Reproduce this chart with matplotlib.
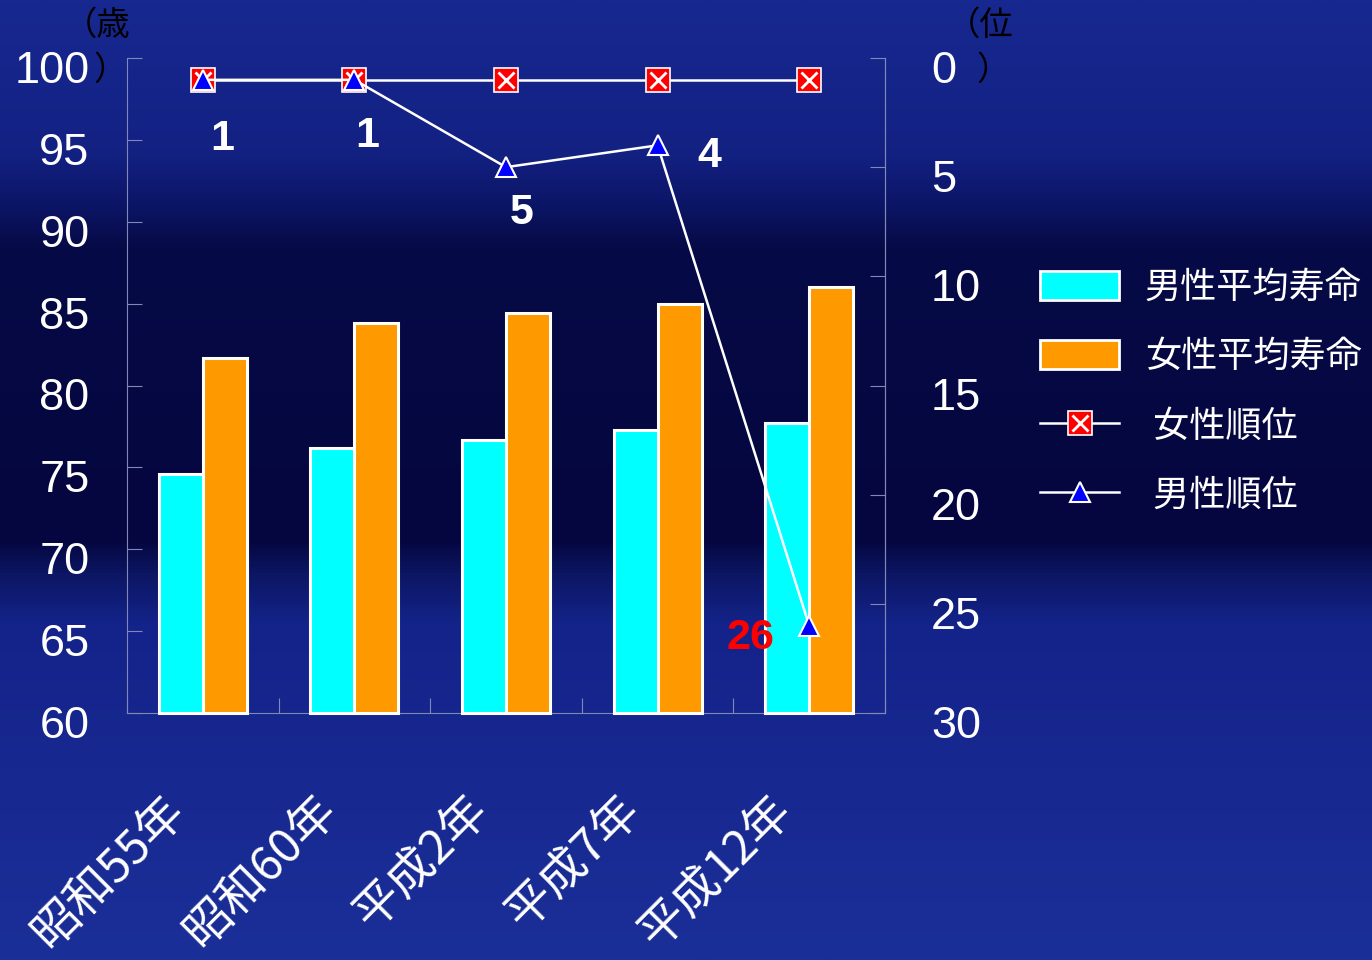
import numpy as np
import matplotlib
matplotlib.use("Agg")
import matplotlib.pyplot as plt
from matplotlib.colors import LinearSegmentedColormap
from matplotlib.lines import Line2D
from matplotlib.patches import Patch
from matplotlib.legend_handler import HandlerTuple
from matplotlib.transforms import ScaledTranslation

plt.rcParams['font.family'] = ['Liberation Sans', 'Noto Sans CJK JP', 'DejaVu Sans']

# ---- data ----
categories = ['昭和55年', '昭和60年', '平成2年', '平成7年', '平成12年']
male_life = [74.6, 76.2, 76.7, 77.3, 77.7]
female_life = [81.7, 83.8, 84.4, 85.0, 86.0]
female_rank = [1, 1, 1, 1, 1]
male_rank = [1, 1, 5, 4, 26]
male_rank_labels = ['1', '1', '5', '4', '26']
left_ticks = [60, 65, 70, 75, 80, 85, 90, 95, 100]
right_ticks = [0, 5, 10, 15, 20, 25, 30]

W, H = 1372, 960
fig = plt.figure(figsize=(W / 100, H / 100), dpi=100)

# ---- background gradient ----
bg = fig.add_axes([0, 0, 1, 1], zorder=-10)
bg.axis('off')
stops = [(0.0, '#172890'), (150 / H, '#132183'), (200 / H, '#0c1668'),
         (245 / H, '#060a46'), (540 / H, '#05063f'), (580 / H, '#0d1868'),
         (625 / H, '#14238a'), (1.0, '#1b2f98')]
cmap = LinearSegmentedColormap.from_list('bgc', stops)
grad = np.linspace(0, 1, 600).reshape(-1, 1)
bg.imshow(grad, aspect='auto', cmap=cmap, extent=[0, 1, 0, 1], origin='upper')
bg.set_xlim(0, 1)
bg.set_ylim(0, 1)

# ---- main axes ----
L, R, T, B = 127, 885, 58, 713
ax = fig.add_axes([L / W, 1 - B / H, (R - L) / W, (B - T) / H])
ax.patch.set_alpha(0)
x = np.arange(len(categories))
bw = 0.29
ax.bar(x - bw / 2, np.array(male_life) - 60, bw, bottom=60, color='#00ffff',
       edgecolor='white', linewidth=2.2, zorder=3, clip_on=False)
ax.bar(x + bw / 2, np.array(female_life) - 60, bw, bottom=60, color='#ff9900',
       edgecolor='white', linewidth=2.2, zorder=3, clip_on=False)
ax.set_ylim(60, 100)
ax.set_xlim(-0.5, len(categories) - 0.5)

spine_c = '#8088b8'
ax.spines['top'].set_visible(False)
for s in ['left', 'bottom', 'right']:
    ax.spines[s].set_color(spine_c)
    ax.spines[s].set_linewidth(0.8)

ax.set_yticks(left_ticks)
ax.set_yticklabels([str(v) for v in left_ticks])
ax.tick_params(axis='y', direction='in', length=11, color=spine_c, width=0.8,
               labelsize=32.5, labelcolor='white', pad=27)
for lab in ax.get_yticklabels():
    lab.set_transform(lab.get_transform() + ScaledTranslation(0, -0.09, fig.dpi_scale_trans))

ax.set_xticks(x)
ax.set_xticklabels(categories, rotation=45, ha='right', va='center',
                   rotation_mode='anchor', fontsize=34, color='white',
                   family=['Noto Sans CJK JP', 'DejaVu Sans'])
ax.tick_params(axis='x', length=0, pad=0)
for lab in ax.get_xticklabels():
    lab.set_transform(lab.get_transform() + ScaledTranslation(-0.25, -0.90, fig.dpi_scale_trans))
ax.set_xticks(np.arange(-0.5, len(categories)), minor=True)
ax.tick_params(axis='x', which='minor', direction='in', length=11, color=spine_c, width=0.8)

# ---- rank axis ----
ax2 = ax.twinx()
ax2.set_ylim(30, 0)
ax2.spines['top'].set_visible(False)
ax2.spines['left'].set_visible(False)
ax2.spines['bottom'].set_visible(False)
ax2.spines['right'].set_color(spine_c)
ax2.spines['right'].set_linewidth(0.8)
ax2.set_yticks(right_ticks)
ax2.set_yticklabels([str(v) for v in right_ticks])
ax2.tick_params(axis='y', direction='in', length=11, color=spine_c, width=0.8,
                labelsize=32.5, labelcolor='white', pad=33)
for lab in ax2.get_yticklabels():
    lab.set_transform(lab.get_transform() + ScaledTranslation(0, -0.09, fig.dpi_scale_trans))

ax2.plot(x, female_rank, color='white', lw=1.8, marker='s', ms=17,
         mfc='#ff0000', mec='white', mew=1.2, zorder=4, clip_on=False)
ax2.plot(x, female_rank, ls='none', marker='x', ms=12, mec='white', mew=2,
         zorder=5, clip_on=False)
ax2.plot(x, male_rank, color='white', lw=1.8, marker='^', ms=14,
         mfc='#0000ff', mec='white', mew=1.5, zorder=6, clip_on=False)

offsets = [(19, -59), (13, -56), (16, -46), (52, -11), (-59, -12)]
colors = ['white', 'white', 'white', 'white', '#ff0000']
for i, (lbl, off, c) in enumerate(zip(male_rank_labels, offsets, colors)):
    ax2.annotate(lbl, (x[i], male_rank[i]), xytext=off, textcoords='offset pixels',
                 ha='center', va='center', fontsize=31, fontweight='bold',
                 color=c, zorder=7)

# ---- unit labels ----
jp = ['Noto Sans CJK JP', 'DejaVu Sans']
fig.text(131 / W, 1 - 25 / H, '（歳', ha='right', va='center', fontsize=24,
         color='black', family=jp)
fig.text(93 / W, 1 - 70 / H, '）', ha='left', va='center', fontsize=24,
         color='black', family=jp)
fig.text(1014 / W, 1 - 25 / H, '（位', ha='right', va='center', fontsize=24,
         color='black', family=jp)
fig.text(976 / W, 1 - 70 / H, '）', ha='left', va='center', fontsize=24,
         color='black', family=jp)

# ---- legend ----
h_m = Patch(facecolor='#00ffff', edgecolor='white', linewidth=2)
h_f = Patch(facecolor='#ff9900', edgecolor='white', linewidth=2)
h_fr = (Line2D([], [], color='white', lw=1.8, marker='s', ms=17, mfc='#ff0000',
               mec='white', mew=1.2),
        Line2D([], [], ls='none', marker='x', ms=12, mec='white', mew=2))
h_mr = Line2D([], [], color='white', lw=1.8, marker='^', ms=14, mfc='#0000ff',
              mec='white', mew=1.5)
leg = fig.legend([h_m, h_f, h_fr, h_mr],
                 ['男性平均寿命', '女性平均寿命', ' 女性順位', ' 男性順位'],
                 handler_map={tuple: HandlerTuple(ndivide=1, pad=0)},
                 loc='upper left', bbox_to_anchor=(1040 / W, 1 - 270 / H),
                 frameon=False, handlelength=2.2, handleheight=0.85,
                 handletextpad=0.7, labelspacing=0.92, borderaxespad=0,
                 borderpad=0, prop={'family': jp, 'size': 26})
for t in leg.get_texts():
    t.set_color('white')

fig.savefig('out.png', dpi=100)
